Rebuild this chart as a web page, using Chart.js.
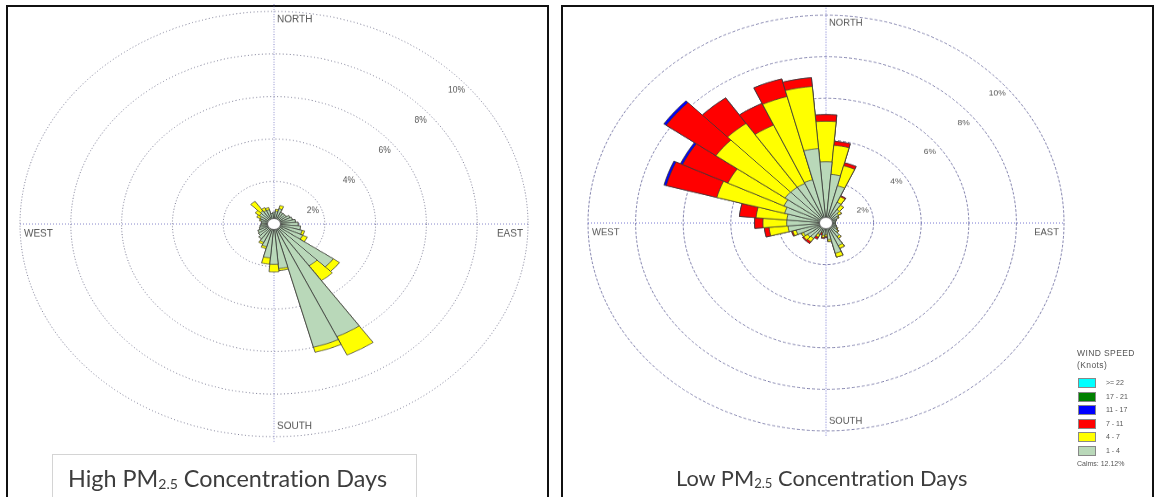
<!DOCTYPE html>
<html>
<head>
<meta charset="utf-8">
<script src="https://cdn.jsdelivr.net/npm/chart.js@4.4.1/dist/chart.umd.min.js"></script>
<style>
  html, body { margin: 0; padding: 0; background: #fff; }
  body { width: 1158px; height: 497px; position: relative; overflow: hidden; font-family: "Liberation Sans", Arial, sans-serif; }
  .panel { position: absolute; top: 5px; height: 520px; border: 2px solid #111; box-sizing: border-box; }
  #panelHigh { left: 6px; width: 543px; }
  #panelLow { left: 561px; width: 593px; }
  canvas { position: absolute; }
  .title { position: absolute; font-family: Lato, "Open Sans", sans-serif; color: #3d3d3d; white-space: nowrap; font-variant-ligatures: none; }
  .title sub { font-size: 0.6em; vertical-align: -0.15em; line-height: 0; }
  #titleHighBox { position: absolute; left: 52px; top: 454px; width: 365px; height: 80px; border: 1px solid #d4d4d4; box-sizing: border-box; }
  #titleHigh { left: 68px; top: 464px; font-size: 23.4px; line-height: 28px; }
  #titleLow { left: 676px; top: 465px; font-size: 21.8px; line-height: 26px; }
  #legend { position: absolute; left: 1077px; top: 347px; font-size: 7px; color: #555; white-space: nowrap; }
  #legend .head { line-height: 12px; font-size: 8.5px; letter-spacing: 0.4px; }
  #legend .row { position: relative; height: 13.6px; }
  #legend .sw { position: absolute; left: 1px; top: 1px; width: 18px; height: 10px; border: 1px solid #888; box-sizing: border-box; }
  #legend .lab { position: absolute; left: 29px; top: 1px; line-height: 10px; }
  #legend .calm { margin-top: 1px; }
</style>
</head>
<body>
<div class="panel" id="panelHigh"></div>
<div class="panel" id="panelLow"></div>
<canvas id="roseHigh"></canvas>
<canvas id="roseLow"></canvas>
<div id="titleHighBox"></div>
<div class="title" id="titleHigh">High PM<sub>2.5</sub> Concentration Days</div>
<div class="title" id="titleLow">Low PM<sub>2.5</sub> Concentration Days</div>
<div id="legend"></div>

<script>
// Wind direction sectors (degrees, blowing-from), 10° each
const directions = [0, 10, 20, 30, 40, 50, 60, 70, 80, 90, 100, 110, 120, 130, 140, 150, 160, 170,
                    180, 190, 200, 210, 220, 230, 240, 250, 260, 270, 280, 290, 300, 310, 320, 330, 340, 350];

// Wind speed classes (knots), lowest first
const speedClasses = ['1 - 4', '4 - 7', '7 - 11', '11 - 17', '17 - 21', '>= 22'];
const speedColors = ['#b9d8b9', '#ffff00', '#ff0000', '#0000ff', '#008000', '#00ffff'];

// Frequency (%) per direction — high PM2.5 concentration days
const high1to4 = [0.55, 0.60, 0.75, 0.60, 0.60, 0.60, 0.70, 0.75, 0.85, 0.95, 1.05, 1.15,
                  1.25, 2.85, 2.40, 5.85, 6.00, 2.10, 1.90, 1.60, 1.10, 0.95, 0.85, 0.75,
                  0.70, 0.60, 0.55, 0.50, 0.50, 0.55, 0.60, 0.70, 0.75, 0.70, 0.70, 0.50];
const high4to7 = [0.00, 0.10, 0.15, 0.00, 0.00, 0.00, 0.00, 0.00, 0.00, 0.00, 0.00, 0.10,
                  0.20, 0.30, 0.85, 0.95, 0.25, 0.10, 0.35, 0.30, 0.10, 0.10, 0.00, 0.00,
                  0.00, 0.00, 0.00, 0.00, 0.00, 0.05, 0.15, 0.20, 0.55, 0.15, 0.10, 0.00];

// Frequency (%) per direction — low PM2.5 concentration days
const low1to4 = [2.95, 2.35, 1.85, 1.10, 0.80, 0.65, 0.55, 0.45, 0.40, 0.40, 0.40, 0.45,
                 0.50, 0.60, 0.80, 1.20, 1.50, 0.80, 0.55, 0.60, 0.45, 0.60, 0.90, 0.95,
                 1.05, 1.30, 1.60, 1.65, 1.65, 1.80, 1.95, 2.10, 2.10, 2.10, 2.15, 3.60];
const low4to7 = [1.95, 1.40, 1.00, 0.30, 0.25, 0.15, 0.05, 0.00, 0.00, 0.00, 0.00, 0.00,
                 0.05, 0.05, 0.10, 0.15, 0.20, 0.10, 0.10, 0.10, 0.05, 0.15, 0.20, 0.20,
                 0.10, 0.15, 0.80, 1.00, 1.30, 2.95, 2.60, 3.55, 3.75, 3.10, 4.15, 3.00];
const low7to11 = [0.32, 0.20, 0.15, 0.05, 0.00, 0.00, 0.00, 0.00, 0.00, 0.00, 0.00, 0.00,
                  0.00, 0.00, 0.00, 0.00, 0.00, 0.00, 0.05, 0.05, 0.10, 0.10, 0.10, 0.05,
                  0.00, 0.05, 0.20, 0.35, 0.70, 2.20, 2.10, 2.55, 1.50, 1.15, 0.88, 0.42];
const low11to17 = [0.00, 0.00, 0.00, 0.00, 0.00, 0.00, 0.00, 0.00, 0.00, 0.00, 0.00, 0.00,
                   0.00, 0.00, 0.00, 0.00, 0.00, 0.00, 0.00, 0.00, 0.00, 0.00, 0.00, 0.00,
                   0.00, 0.00, 0.00, 0.00, 0.00, 0.10, 0.10, 0.12, 0.00, 0.00, 0.00, 0.00];

// Ring values (%) and compass names
const ringTicks = [0, 2, 4, 6, 8, 10];
const compassNames = ['NORTH', 'EAST', 'SOUTH', 'WEST'];
const legendTitle = ['WIND SPEED', '(Knots)'];
const calmsText = 'Calms: 12.12%';

// Grid axes, calm circle, ring and compass labels
const roseDecor = {
  id: 'roseDecor',
  beforeDatasetsDraw(chart, args, o) {
    const s = chart.scales.r, ctx = chart.ctx;
    const R = s.drawingArea, cx = s.xCenter, cy = s.yCenter;
    ctx.save();
    ctx.strokeStyle = o.axisColor;
    ctx.lineWidth = 1;
    ctx.setLineDash(o.axisDash);
    ctx.beginPath();
    ctx.moveTo(cx, cy - R * 1.035); ctx.lineTo(cx, cy + R * 1.03);
    ctx.moveTo(cx - R, cy); ctx.lineTo(cx + R, cy);
    ctx.stroke();
    ctx.restore();
  },
  afterDatasetsDraw(chart, args, o) {
    const s = chart.scales.r, ctx = chart.ctx;
    const R = s.drawingArea, cx = s.xCenter, cy = s.yCenter, k = o.squash;
    ctx.save();
    ctx.beginPath();
    ctx.arc(cx, cy, o.calmRadius, 0, Math.PI * 2);
    ctx.fillStyle = '#ffffff';
    ctx.fill();
    ctx.lineWidth = 0.8;
    ctx.strokeStyle = '#555';
    ctx.stroke();
    ctx.restore();

    const text = (t, x, y, align, font) => {
      ctx.save();
      ctx.translate(x, y);
      ctx.scale(1, 1 / k);
      ctx.font = font;
      ctx.fillStyle = o.textColor;
      ctx.textAlign = align;
      ctx.textBaseline = 'middle';
      ctx.fillText(t, 0, 0);
      ctx.restore();
    };
    s.ticks.forEach(t => {
      if (t.value <= 0) return;
      const r = s.getDistanceFromCenterForValue(t.value);
      text(t.value + '%', cx + r * Math.SQRT1_2 + 3, cy - r * Math.SQRT1_2 + 17 / k, 'center', o.tickFont);
    });
    text(compassNames[0], cx + 3, cy - R + 8 / k, 'left', o.compassFont);
    text(compassNames[1], cx + R - 5, cy + 10 / k, 'right', o.compassFont);
    text(compassNames[2], cx + 3, cy + R - 10 / k, 'left', o.compassFont);
    text(compassNames[3], cx - R + 4, cy + 10 / k, 'left', o.compassFont);
  }
};

function makeRose(canvasId, series, geo) {
  const pad = 22;
  const size = 2 * (geo.rx + pad);
  const k = geo.ry / geo.rx;
  const canvas = document.getElementById(canvasId);
  canvas.width = size;
  canvas.height = size;
  canvas.style.width = size + 'px';
  canvas.style.height = (size * k) + 'px';

  // Stack the speed classes: each ring ends at the running total
  const datasets = [];
  let running = directions.map(() => 0);
  series.forEach((vals, i) => {
    running = running.map((r, j) => r + vals[j]);
    datasets.push({
      label: speedClasses[i],
      data: running.slice(),
      backgroundColor: speedColors[i],
      borderColor: '#3a3a3a',
      borderWidth: 0.8
    });
  });

  const chart = new Chart(canvas, {
    type: 'polarArea',
    data: { labels: directions.map(d => d + '°'), datasets },
    options: {
      responsive: false,
      animation: false,
      events: [],
      layout: { padding: pad },
      plugins: {
        legend: { display: false },
        tooltip: { enabled: false },
        roseDecor: {
          squash: k,
          calmRadius: 6.5,
          axisColor: geo.axisColor,
          axisDash: [1, 2],
          tickFont: '8.5px "Liberation Sans", Arial, sans-serif',
          compassFont: geo.compassFont,
          textColor: '#555'
        }
      },
      scales: {
        r: {
          min: 0,
          max: ringTicks[ringTicks.length - 1],
          startAngle: -5,
          afterBuildTicks: sc => { sc.ticks = ringTicks.map(v => ({ value: v })); },
          ticks: { display: false },
          grid: { circular: true, color: geo.ringColor, lineWidth: 1 },
          border: { dash: geo.ringDash },
          angleLines: { display: false },
          pointLabels: { display: false }
        }
      }
    },
    plugins: [roseDecor]
  });

  const s = chart.scales.r;
  canvas.style.left = (geo.cx - s.xCenter) + 'px';
  canvas.style.top = (geo.cy - s.yCenter * k) + 'px';
  return chart;
}

makeRose('roseHigh', [high1to4, high4to7], {
  cx: 274, cy: 224, rx: 254, ry: 213,
  ringColor: 'rgba(70,70,105,0.85)', ringDash: [1, 2.5], axisColor: 'rgba(110,110,190,0.9)',
  compassFont: '10px "Liberation Sans", Arial, sans-serif'
});
makeRose('roseLow', [low1to4, low4to7, low7to11, low11to17], {
  cx: 826, cy: 223, rx: 238, ry: 208,
  ringColor: 'rgba(95,95,150,0.8)', ringDash: [3, 2], axisColor: 'rgba(90,90,200,0.9)',
  compassFont: '9.5px "Liberation Sans", Arial, sans-serif'
});

// Wind speed legend, fastest class first
const legend = document.getElementById('legend');
legendTitle.forEach(t => {
  const d = document.createElement('div');
  d.className = 'head';
  d.textContent = t;
  legend.appendChild(d);
});
const gap = document.createElement('div');
gap.style.height = '6px';
legend.appendChild(gap);
for (let i = speedClasses.length - 1; i >= 0; i--) {
  const row = document.createElement('div');
  row.className = 'row';
  const sw = document.createElement('div');
  sw.className = 'sw';
  sw.style.background = speedColors[i];
  const lab = document.createElement('div');
  lab.className = 'lab';
  lab.textContent = speedClasses[i];
  row.appendChild(sw);
  row.appendChild(lab);
  legend.appendChild(row);
}
const calm = document.createElement('div');
calm.className = 'calm';
calm.textContent = calmsText;
legend.appendChild(calm);
</script>
</body>
</html>
